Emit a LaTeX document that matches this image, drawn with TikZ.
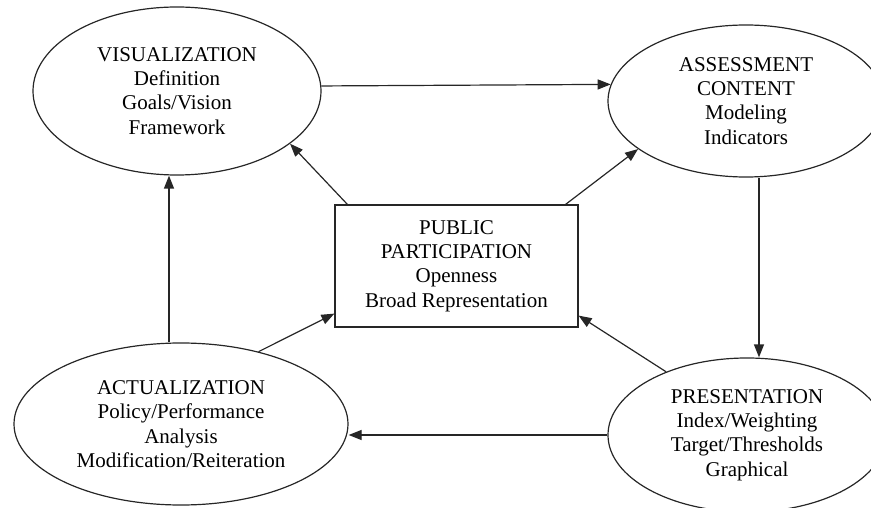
\documentclass[tikz,border=0pt]{standalone}
\usepackage{fontspec}
\setmainfont{Liberation Serif}
\usetikzlibrary{arrows.meta,shapes.geometric}
\begin{document}
\begin{tikzpicture}[x=1pt,y=-1pt,
  txt/.style={align=center,font=\fontsize{21}{24.3}\selectfont,text=black},
  oval/.style={ellipse,draw=black!85,line width=1.2pt,inner sep=0pt,txt},
  box/.style={rectangle,draw=black!85,line width=1.2pt,inner sep=0pt,txt},
  arr/.style={draw=black!85,line width=1.2pt,-{Triangle[length=13pt,width=10pt]}}]
\useasboundingbox (0,0) rectangle (871,508);
\node[oval,minimum width=288pt,minimum height=168pt] (vis) at (177,91)
  {VISUALIZATION\\Definition\\Goals/Vision\\Framework};
\node[oval,minimum width=276pt,minimum height=152pt] (ass) at (746,101)
  {ASSESSMENT\\CONTENT\\Modeling\\Indicators};
\node[oval,minimum width=334pt,minimum height=162pt] (act) at (181,424)
  {ACTUALIZATION\\Policy/Performance\\Analysis\\Modification/Reiteration};
\node[oval,minimum width=278pt,minimum height=154pt] (pres) at (747,435)
  {PRESENTATION\\Index/Weighting\\Target/Thresholds\\Graphical};
\node[box,minimum width=243pt,minimum height=122pt] (pub) at (456.5,266)
  {PUBLIC\\PARTICIPATION\\Openness\\Broad Representation};
\draw[arr] (vis.2.4) -- (ass.173.8);
\draw[arr] ([xshift=13pt]ass.south) -- ([xshift=13pt]ass.south |- pres.north);
\draw[arr] (pres.west) -- (pres.west -| act.east);
\draw[arr] ([xshift=-12pt]act.north) -- ([xshift=-12pt]act.north |- vis.south);
\draw[arr] ([xshift=13pt]pub.north west) -- (vis.-25);
\draw[arr] ([xshift=-13pt]pub.north east) -- (ass.-156.7);
\draw[arr] (act.43) -- ([yshift=14pt]pub.south west);
\draw[arr] (pres.142) -- ([yshift=12pt]pub.south east);
\end{tikzpicture}
\end{document}
